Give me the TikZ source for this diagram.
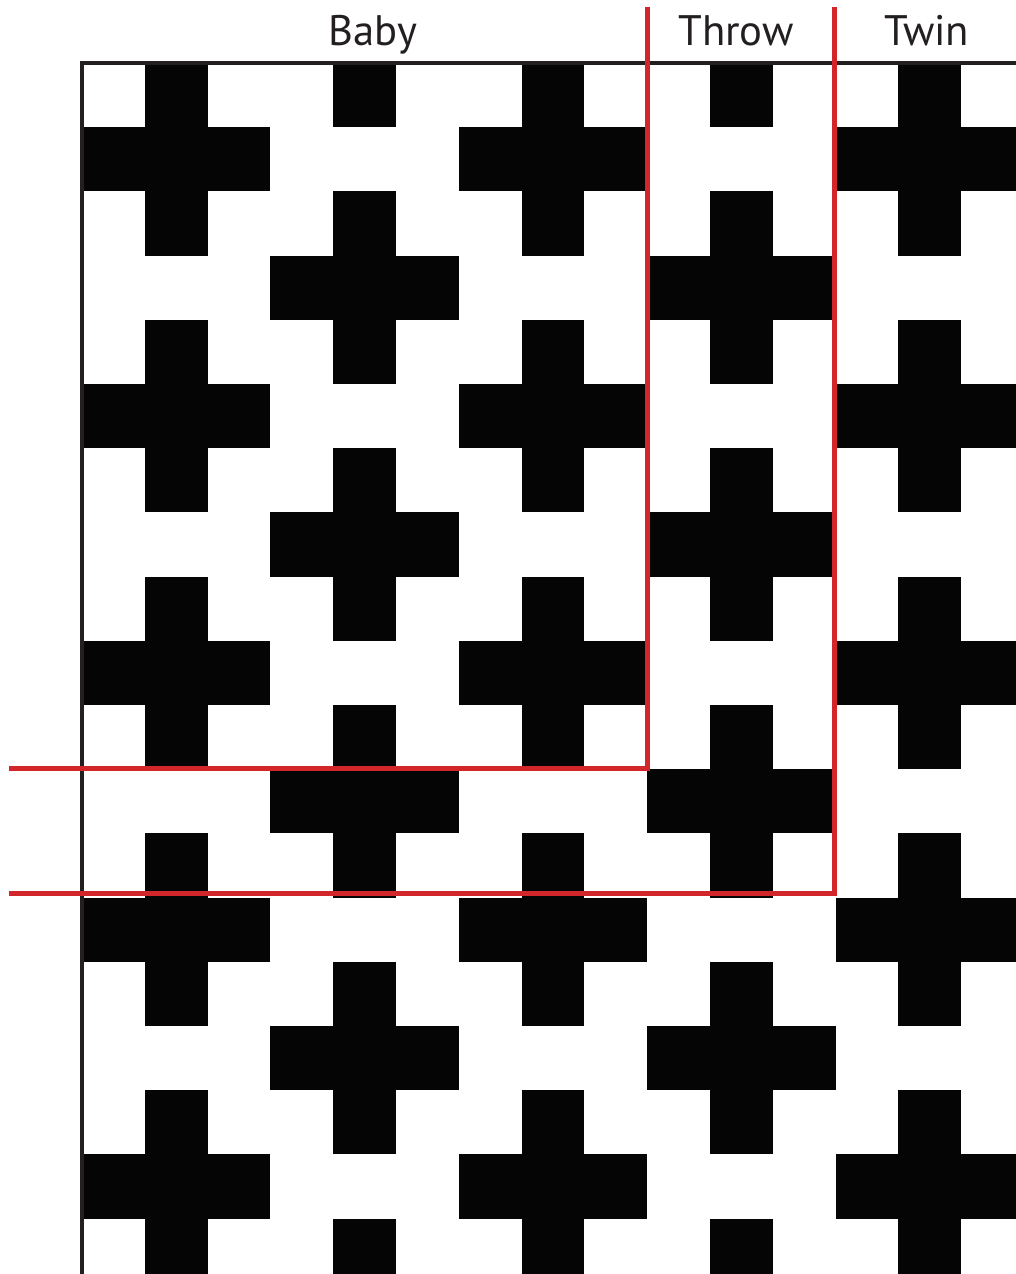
\documentclass[tikz,border=0pt]{standalone}
\usepackage{fontspec}
\setmainfont{PT Sans}
\definecolor{qred}{HTML}{D2262A}
\definecolor{qink}{HTML}{231F20}
\definecolor{blk}{HTML}{050505}
\newcommand\plusblock[2]{%
  \fill[blk] ({82+3*#1*62.8},{63+#2*64.2}) rectangle ({82+(3*#1+3)*62.8},{63+(#2+1)*64.2});
  \fill[blk] ({82+(3*#1+1)*62.8},{63+(#2-1)*64.2}) rectangle ({82+(3*#1+2)*62.8},{63+(#2+2)*64.2});
}
\tikzset{
  border/.style={draw=qink,line width=2.4pt},
  sizeline/.style={draw=qred,line width=3.75pt},
  sizelabel/.style={text=qink,font=\fontsize{32}{38}\selectfont,anchor=base,inner sep=0pt}
}
\begin{document}
\begin{tikzpicture}[x=0.75pt,y=-0.75pt]
\useasboundingbox (0,0) rectangle (1016,1274);
\begin{scope}
\clip (82,63) rectangle (1016,1274);
\foreach \k in {0,2,4} \foreach \r in {1,5,9,13,17} {\plusblock{\k}{\r}}
\foreach \k in {1,3} \foreach \r in {-1,3,7,11,15,19} {\plusblock{\k}{\r}}
\end{scope}
\begin{scope}
\clip (0,0) rectangle (1016,1274);
\draw[border] (80,63) -- (1016,63);
\draw[border] (82,61.5) -- (82,1274);
\coordinate (b1) at (647,7);
\coordinate (b2) at (647,768);
\coordinate (b3) at (9,768);
\coordinate (t1) at (834,7);
\coordinate (t2) at (834,893);
\coordinate (t3) at (9,893);
\draw[sizeline] (b1) -- (b2) -- (b3);
\draw[sizeline] (t1) -- (t2) -- (t3);
\end{scope}
\node[sizelabel] (baby) at (373,45.7) {Baby};
\node[sizelabel] (throw) at (736,45.7) {Throw};
\node[sizelabel] (twin) at (927,45.7) {Twin};
\end{tikzpicture}
\end{document}
